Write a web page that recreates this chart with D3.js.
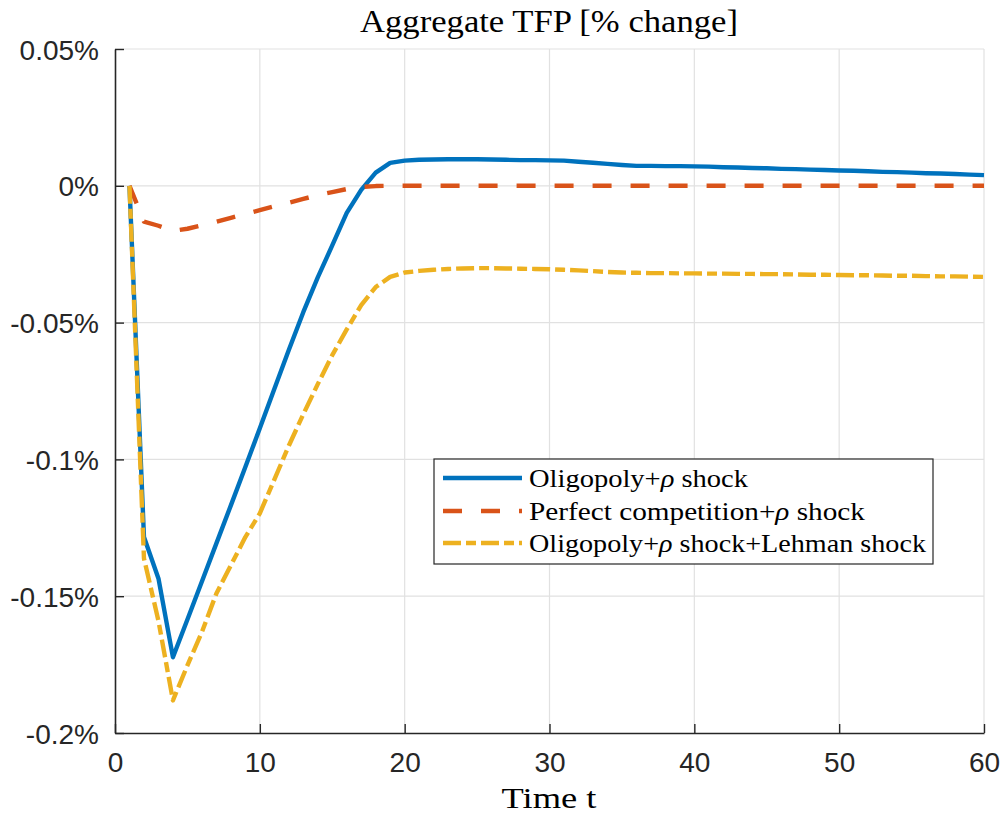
<!DOCTYPE html>
<html>
<head>
<meta charset="utf-8">
<script src="https://cdn.jsdelivr.net/npm/d3@7"></script>
<style>
  html, body { margin: 0; padding: 0; background: #fff; }
  svg { display: block; }
</style>
</head>
<body>
<svg id="chart" width="1003" height="815"></svg>
<script>
// Time periods 1..60
const periods = d3.range(1, 61);

// Aggregate TFP response, % change
const oligopoly = [
  0, -0.1284, -0.1435, -0.1723, -0.1585, -0.1446, -0.1307, -0.1168, -0.1028, -0.0886,
  -0.0743, -0.0600, -0.0462, -0.0335, -0.0218, -0.0099, -0.0015, 0.0048, 0.0084, 0.0092,
  0.0095, 0.0096, 0.0097, 0.0097, 0.0097, 0.0096, 0.0095, 0.0094, 0.0094, 0.0093,
  0.0092, 0.0088, 0.0084, 0.0080, 0.0076, 0.0073, 0.0073, 0.0072, 0.0072, 0.0071,
  0.0070, 0.0068, 0.0067, 0.0065, 0.0064, 0.0062, 0.0061, 0.0059, 0.0058, 0.0056,
  0.0055, 0.0053, 0.0051, 0.0050, 0.0048, 0.0046, 0.0045, 0.0043, 0.0041, 0.0039
];
const perfectCompetition = [
  0, -0.0131, -0.0146, -0.0165, -0.0157, -0.0144, -0.0131, -0.0117, -0.0103, -0.0089,
  -0.0075, -0.0062, -0.0048, -0.0034, -0.0023, -0.0012, -0.0004, -0.0001, 0, 0,
  0, 0, 0, 0, 0, 0, 0, 0, 0, 0,
  0, 0, 0, 0, 0, 0, 0, 0, 0, 0,
  0, 0, 0, 0, 0, 0, 0, 0, 0, 0,
  0, 0, 0, 0, 0, 0, 0, 0, 0, 0
];
const oligopolyLehman = [
  0, -0.1362, -0.1590, -0.1881, -0.1753, -0.1631, -0.1490, -0.1387, -0.1284, -0.1197,
  -0.1074, -0.0950, -0.0835, -0.0725, -0.0619, -0.0525, -0.0436, -0.0370, -0.0333, -0.0317,
  -0.0311, -0.0307, -0.0304, -0.0302, -0.0301, -0.0301, -0.0302, -0.0303, -0.0304, -0.0305,
  -0.0307, -0.0309, -0.0312, -0.0315, -0.0317, -0.0318, -0.0319, -0.0319, -0.0320, -0.0320,
  -0.0321, -0.0321, -0.0322, -0.0322, -0.0323, -0.0323, -0.0324, -0.0325, -0.0325, -0.0326,
  -0.0327, -0.0327, -0.0328, -0.0329, -0.0329, -0.0330, -0.0331, -0.0331, -0.0332, -0.0333
];

const xTicks = [0, 10, 20, 30, 40, 50, 60];
const yTicks = [-0.2, -0.15, -0.1, -0.05, 0, 0.05];
const yTickLabels = ["-0.2%", "-0.15%", "-0.1%", "-0.05%", "0%", "0.05%"];

const seriesNames = ["Oligopoly+", "Perfect competition+", "Oligopoly+"];
const seriesSuffix = [" shock", " shock", " shock+Lehman shock"];

const series = [
  { values: oligopoly, color: "#0072BD", dash: null },
  { values: perfectCompetition, color: "#D95319", dash: "19,19" },
  { values: oligopolyLehman, color: "#EDB120", dash: "18,5,10,5" }
];

const svg = d3.select("#chart");
const margin = { left: 115, right: 19, top: 49, bottom: 82 };
const W = 1003, H = 815;

const x = d3.scaleLinear().domain([0, 60]).range([margin.left, W - margin.right]);
const y = d3.scaleLinear().domain([-0.2, 0.05]).range([H - margin.bottom, margin.top]);

const axisColor = "#262626";
const gridColor = "#e1e1e1";

// grid
const grid = svg.append("g");
grid.selectAll("line.gx").data(xTicks.slice(1)).join("line")
  .attr("x1", d => x(d)).attr("x2", d => x(d))
  .attr("y1", y(-0.2)).attr("y2", y(0.05))
  .attr("stroke", gridColor).attr("stroke-width", 1.2);
grid.selectAll("line.gy").data(yTicks.slice(1)).join("line")
  .attr("x1", x(0)).attr("x2", x(60))
  .attr("y1", d => y(d)).attr("y2", d => y(d))
  .attr("stroke", gridColor).attr("stroke-width", 1.2);

// axes
const xAxis = d3.axisBottom(x).tickValues(xTicks).tickSizeInner(-9).tickSizeOuter(0).tickPadding(19);
const yAxis = d3.axisLeft(y).tickValues(yTicks).tickSizeInner(-9).tickSizeOuter(0).tickPadding(16)
  .tickFormat((d, i) => yTickLabels[i]);

const gx = svg.append("g").attr("transform", `translate(0,${y(-0.2)})`).call(xAxis);
const gy = svg.append("g").attr("transform", `translate(${x(0)},0)`).call(yAxis);
[gx, gy].forEach(g => {
  g.select(".domain").attr("stroke", axisColor).attr("stroke-width", 1.6);
  g.selectAll(".tick line").attr("stroke", axisColor).attr("stroke-width", 1.4);
  g.selectAll(".tick text")
    .attr("fill", axisColor)
    .style("font-family", "'Liberation Sans', Arial, sans-serif")
    .style("font-size", "28px");
});
gy.selectAll(".tick text").attr("dy", "0.36em");
gx.selectAll(".tick text").attr("dy", "0.72em");

// series lines
const line = d3.line().x((d, i) => x(periods[i])).y(d => y(d));
const plot = svg.append("g");
series.forEach(s => {
  plot.append("path")
    .datum(s.values)
    .attr("d", line)
    .attr("fill", "none")
    .attr("stroke", s.color)
    .attr("stroke-width", 4.4)
    .attr("stroke-linejoin", "round")
    .attr("stroke-dasharray", s.dash);
});

// title and axis label
const serif = "'Liberation Serif', 'Times New Roman', serif";
svg.append("text")
  .attr("x", 549).attr("y", 32)
  .attr("text-anchor", "middle")
  .attr("textLength", 378).attr("lengthAdjust", "spacingAndGlyphs")
  .style("font-family", serif).style("font-size", "31px").attr("fill", "#000")
  .text("Aggregate TFP [% change]");
svg.append("text")
  .attr("x", 549).attr("y", 808)
  .attr("text-anchor", "middle")
  .attr("textLength", 95).attr("lengthAdjust", "spacingAndGlyphs")
  .style("font-family", serif).style("font-size", "29px").attr("fill", "#000")
  .text("Time t");

// legend
const lg = svg.append("g");
lg.append("rect")
  .attr("x", 434).attr("y", 459).attr("width", 499).attr("height", 105)
  .attr("fill", "#fff").attr("stroke", axisColor).attr("stroke-width", 1.2);
const rowY = [478, 511, 543];
const textWidths = [219, 336, 397];
series.forEach((s, i) => {
  lg.append("line")
    .attr("x1", 443).attr("x2", 522)
    .attr("y1", rowY[i]).attr("y2", rowY[i])
    .attr("stroke", s.color).attr("stroke-width", 4.4)
    .attr("stroke-dasharray", s.dash);
  const t = lg.append("text")
    .attr("x", 529).attr("y", rowY[i] + 9)
    .attr("textLength", textWidths[i]).attr("lengthAdjust", "spacingAndGlyphs")
    .style("font-family", serif).style("font-size", "26px").attr("fill", "#000");
  t.append("tspan").text(seriesNames[i]);
  t.append("tspan").style("font-style", "italic").text("ρ");
  t.append("tspan").text(seriesSuffix[i]);
});
</script>
</body>
</html>
